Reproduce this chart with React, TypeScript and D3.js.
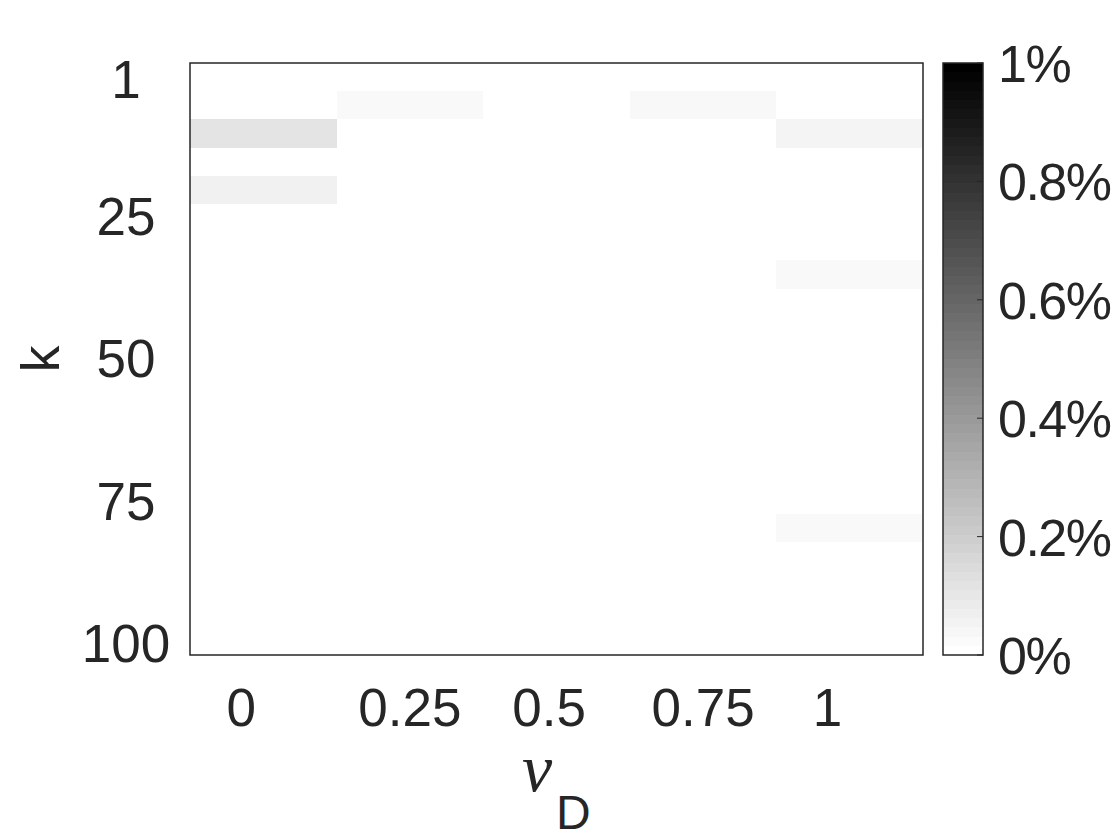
import React from "react";
import * as d3 from "d3";

// columns (nu_D) and their tick labels (MATLAB pads them with trailing blanks)
const nuValues = [0, 0.25, 0.5, 0.75, 1];
const nuLabels = ["0   ", "0.25", "0.5 ", "0.75", "1   "];

// rows: 21 bins of k spread between 1 and 100
const kRange = [1, 100];
const rowCount = 21;
const kTicks = [1, 25, 50, 75, 100];

// non-empty cells (everything else is 0%)
const cellNu = [0, 0, 0.25, 0.75, 1, 1, 1];
const cellRow = [2, 4, 1, 1, 2, 7, 16];
const cellPct = [0.106, 0.055, 0.024, 0.026, 0.043, 0.024, 0.024];

const cbTicks = [0, 0.2, 0.4, 0.6, 0.8, 1];
const cbSteps = 64;

const ink = "#262626";
const sans = "'Liberation Sans', Arial, Helvetica, sans-serif";

export default function App() {
  const W = 1120;
  const H = 840;
  const plot = { left: 190, right: 923, top: 63, bottom: 655 };
  const cb = { left: 943, right: 983 };

  const step = (kRange[1] - kRange[0]) / (rowCount - 1);

  const x = d3
    .scaleBand<number>()
    .domain(nuValues)
    .range([plot.left, plot.right])
    .padding(0);

  const y = d3
    .scaleLinear()
    .domain([kRange[0] - step / 2, kRange[1] + step / 2])
    .range([plot.top, plot.bottom]);

  const color = d3
    .scaleLinear<string>()
    .domain([0, 1])
    .range(["#ffffff", "#000000"])
    .clamp(true);

  const cbScale = d3.scaleLinear().domain([0, 1]).range([plot.bottom, plot.top]);

  // full grid, filled from the sparse lists
  const cells: { nu: number; row: number; v: number }[] = [];
  nuValues.forEach((nu) => {
    d3.range(rowCount).forEach((row) => {
      const idx = cellNu.findIndex((n, i) => n === nu && cellRow[i] === row);
      cells.push({ nu, row, v: idx >= 0 ? cellPct[idx] : 0 });
    });
  });

  const rowK = (row: number) => kRange[0] + row * step;

  const cbBands = d3.range(cbSteps).map((i) => ({
    lo: i / cbSteps,
    hi: (i + 1) / cbSteps,
    c: color(i / (cbSteps - 1)),
  }));

  return (
    <svg width={W} height={H} style={{ display: "block", margin: "-8px", background: "#fff" }}>
      <rect width={W} height={H} fill="#fff" />

      {/* heatmap cells */}
      <g>
        {cells.map((d, i) => (
          <rect
            key={i}
            x={x(d.nu)}
            y={y(rowK(d.row) - step / 2)}
            width={x.bandwidth()}
            height={y(rowK(d.row) + step / 2) - y(rowK(d.row) - step / 2)}
            fill={color(d.v)}
            shapeRendering="crispEdges"
          />
        ))}
      </g>

      {/* axes box */}
      <rect
        x={plot.left}
        y={plot.top}
        width={plot.right - plot.left}
        height={plot.bottom - plot.top}
        fill="none"
        stroke={ink}
        strokeWidth={1.5}
      />

      {/* x tick labels */}
      <g fontFamily={sans} fontSize={53} fill={ink}>
        {nuValues.map((nu, i) => (
          <text
            key={nu}
            x={(x(nu) as number) + x.bandwidth() / 2}
            y={726}
            textAnchor="middle"
            style={{ whiteSpace: "pre" }}
          >
            {nuLabels[i]}
          </text>
        ))}
      </g>

      {/* y tick labels */}
      <g fontFamily={sans} fontSize={53} fill={ink}>
        {kTicks.map((k) => (
          <text key={k} x={126} y={y(k) + 21} textAnchor="middle">
            {k}
          </text>
        ))}
      </g>

      {/* axis titles */}
      <text
        transform={`translate(59,${(plot.top + plot.bottom) / 2}) rotate(-90)`}
        textAnchor="middle"
        fontFamily={sans}
        fontSize={54}
        fill={ink}
      >
        k
      </text>
      <text x={522} y={791} fontFamily="'Liberation Serif', 'Times New Roman', serif" fontStyle="italic" fontSize={68} fill={ink}>
        ν
      </text>
      <text x={556} y={829} fontFamily={sans} fontSize={48} fill={ink}>
        D
      </text>

      {/* colorbar */}
      <g>
        {cbBands.map((b, i) => (
          <rect
            key={i}
            x={cb.left}
            y={cbScale(b.hi)}
            width={cb.right - cb.left}
            height={cbScale(b.lo) - cbScale(b.hi)}
            fill={b.c}
            shapeRendering="crispEdges"
          />
        ))}
        <rect
          x={cb.left}
          y={plot.top}
          width={cb.right - cb.left}
          height={plot.bottom - plot.top}
          fill="none"
          stroke={ink}
          strokeWidth={1.5}
        />
        {cbTicks.map((t) => (
          <line
            key={t}
            x1={cb.right - 6}
            x2={cb.right}
            y1={cbScale(t)}
            y2={cbScale(t)}
            stroke={ink}
            strokeWidth={1}
          />
        ))}
        <g fontFamily={sans} fontSize={52} fill={ink} letterSpacing={-1.5}>
          {cbTicks.map((t) => (
            <text key={t} x={998} y={cbScale(t) + 19}>
              {`${t}%`}
            </text>
          ))}
        </g>
      </g>
    </svg>
  );
}
